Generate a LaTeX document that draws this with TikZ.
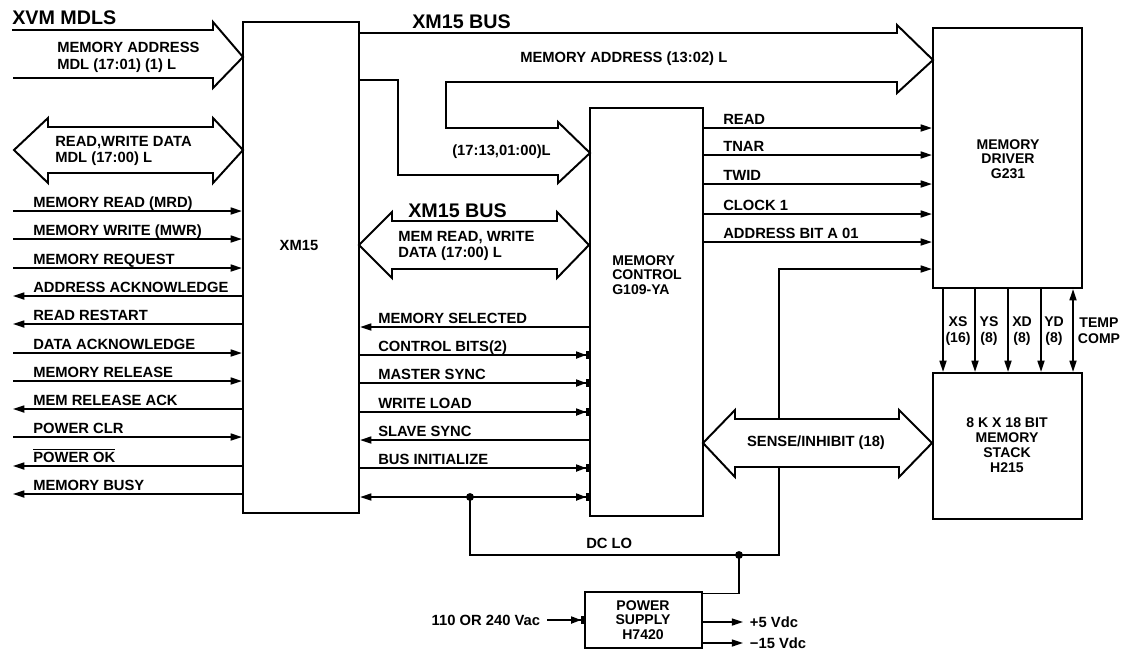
\documentclass[tikz,border=0pt]{standalone}
\usepackage{fontspec}
\setmainfont{Liberation Sans}
\usetikzlibrary{arrows.meta,fit}

\begin{document}
\begin{tikzpicture}[x=0.025cm,y=-0.025cm]

	\tikzset{
		block/.style={
			draw,
			rectangle,
			line width=1.6pt,
			inner sep=0pt
		},
		blocktext/.style={
			align=center,
			inner sep=0pt,
			font=\bfseries\fontsize{10}{10.5}\selectfont
		},
		bus/.style={
			line width=1.4pt,
			line join=miter
		},
		sig/.style={line width=1.1pt},
		tin/.style={sig, -{Triangle[length=8pt,width=5pt]}},
		tout/.style={sig, {Triangle[length=8pt,width=5pt]}-},
		tbar/.style={sig, -{Triangle[length=7pt,width=5pt]Bar[width=5.5pt,line width=2pt]}},
		siglabel/.style={
			anchor=base west,
			inner sep=0pt,
			font=\bfseries\fontsize{10.5}{12}\selectfont
		},
		buslabel/.style={
			anchor=west,
			align=left,
			inner sep=0pt,
			font=\bfseries\fontsize{10.5}{12}\selectfont
		},
		title/.style={
			anchor=base west,
			inner sep=0pt,
			font=\bfseries\fontsize{14}{15}\selectfont
		}
	}

	\useasboundingbox (0,0) rectangle (1122,654);

	% BLOCKS
	\node[block, fit={(243,22) (359,513)}] (xm) {};
	\node[block, fit={(590,108) (703,516)}] (ctl) {};
	\node[block, fit={(933,28) (1082,288)}] (drv) {};
	\node[block, fit={(933,373) (1082,519)}] (stk) {};
	\node[block, fit={(585,592) (702,648)}] (ps) {};

	\node[blocktext, font=\bfseries\fontsize{10.5}{11}\selectfont] (xmtext) at (299,245) {XM15};
	\node[blocktext, anchor=west, align=left] (ctltext) at (612,275) {MEMORY\\CONTROL\\G109-YA};
	\node[blocktext] (drvtext) at (1008,159) {MEMORY\\DRIVER\\G231};
	\node[blocktext] (stktext) at (1007,445) {8 K X 18 BIT\\MEMORY\\STACK\\H215};
	\node[blocktext] (pstext) at (643,620) {POWER\\SUPPLY\\H7420};

	% XVM MDLS
	\node[title] (xvm) at (12,24) {XVM MDLS};
	\draw[bus] (12,30) -- (213,30) -- (213,22) -- (243,57) -- (213,88) -- (213,78) -- (13,78);
	\node[buslabel] (mdladdr) at (57,57) {MEMORY ADDRESS\\MDL (17:01) (1) L};

	\draw[bus] (48,127) -- (213,127) -- (213,118) -- (243,150) -- (213,183) -- (213,173)
		-- (48,173) -- (48,183) -- (14,150) -- (48,118) -- cycle;
	\node[buslabel] (mdldata) at (55,151) {READ,WRITE DATA\\MDL (17:00) L};

	% XM15 BUS (TOP)
	\node[title] (bustop) at (412,28) {XM15 BUS};
	\draw[bus] (359,33) -- (897,33) -- (897,25) -- (933,60) -- (897,93) -- (897,82)
		-- (446,82) -- (446,128) -- (558,128) -- (558,122) -- (590,153) -- (558,183)
		-- (558,175) -- (398,175) -- (398,80) -- (359,80);
	\node[buslabel] (addrlabel) at (520,59) {MEMORY ADDRESS (13:02) L};
	\node[buslabel] (ctladdr) at (452,152) {(17:13,01:00)L};

	% XM15 BUS (DATA)
	\node[title] (busmid) at (408,217) {XM15 BUS};
	\draw[bus] (392,221) -- (557,221) -- (557,212) -- (589,245) -- (557,278) -- (557,269)
		-- (392,269) -- (392,278) -- (359,245) -- (392,212) -- cycle;
	\node[buslabel] (datalabel) at (398,246) {MEM READ, WRITE\\DATA (17:00) L};

	% LEFT SIGNALS
	\foreach \y/\txt/\st [count=\i] in {
		211/MEMORY READ (MRD)/tin,
		239/MEMORY WRITE (MWR)/tin,
		268/MEMORY REQUEST/tin,
		296/ADDRESS ACKNOWLEDGE/tout,
		324/READ RESTART/tout,
		353/DATA ACKNOWLEDGE/tin,
		381/MEMORY RELEASE/tin,
		409/MEM RELEASE ACK/tout,
		437/POWER CLR/tin,
		466/$\overline{\hbox{POWER OK}}$/tout,
		494/MEMORY BUSY/tout} {
		\coordinate (l\i) at (13,\y);
		\draw[\st] (l\i) -- (l\i -| xm.west);
		\node[siglabel] (ll\i) at (33,\y-4) {\txt};
	}

	% XM15 TO MEMORY CONTROL
	\foreach \y/\txt/\st [count=\i] in {
		327/MEMORY SELECTED/tout,
		355/CONTROL BITS(2)/tbar,
		383/MASTER SYNC/tbar,
		412/WRITE LOAD/tbar,
		440/SLAVE SYNC/tout,
		468/BUS INITIALIZE/tbar} {
		\coordinate (m\i) at (0,\y);
		\draw[\st] (xm.east |- m\i) -- (ctl.west |- m\i);
		\node[siglabel] (ml\i) at (378,\y-4) {\txt};
	}

	\coordinate (dcdot) at (470,497);
	\draw[sig, {Triangle[length=8pt,width=5pt]}-{Triangle[length=7pt,width=5pt]Bar[width=5.5pt,line width=2pt]}]
		(xm.east |- dcdot) -- (ctl.west |- dcdot);
	\fill (dcdot) circle (2.8pt);

	% MEMORY CONTROL TO DRIVER
	\foreach \y/\txt [count=\i] in {128/READ, 155/TNAR, 184/TWID, 214/CLOCK 1, 242/ADDRESS BIT A 01} {
		\coordinate (r\i) at (0,\y);
		\draw[tin] (ctl.east |- r\i) -- (drv.west |- r\i);
		\node[siglabel] (rl\i) at (723,\y-4) {\txt};
	}

	% DC LO
	\coordinate (dcturn) at (779,555);
	\coordinate (dcin) at (779,269);
	\coordinate (psdot) at (739,555);
	\draw[tin] (dcdot) |- (dcturn) -- (dcin) -- (dcin -| drv.west);
	\fill (psdot) circle (2.8pt);
	\draw[sig] (psdot) |- ([yshift=-2pt]ps.north east);
	\node[siglabel] (dclo) at (586,548) {DC LO};

	% SENSE/INHIBIT
	\draw[bus, fill=white] (735,419) -- (899,419) -- (899,410) -- (932,443) -- (899,477) -- (899,467)
		-- (735,467) -- (735,477) -- (703,443) -- (735,410) -- cycle;
	\node[font=\bfseries\fontsize{10.5}{12}\selectfont] (sense) at (816,443) {SENSE/INHIBIT (18)};

	% DRIVER TO STACK
	\foreach \x [count=\i] in {943,975,1008,1041} {
		\coordinate (v\i) at (\x,0);
		\draw[tin] (drv.south -| v\i) -- (stk.north -| v\i);
	}
	\coordinate (v5) at (1073,0);
	\draw[sig, {Triangle[length=8pt,width=5pt]}-{Triangle[length=8pt,width=5pt]}] (drv.south -| v5) -- (stk.north -| v5);

	\node[align=center, font=\bfseries\fontsize{10}{11.5}\selectfont] (xs) at (958,331) {XS\\(16)};
	\node[align=center, font=\bfseries\fontsize{10}{11.5}\selectfont] (ys) at (989,331) {YS\\(8)};
	\node[align=center, font=\bfseries\fontsize{10}{11.5}\selectfont] (xd) at (1022,331) {XD\\(8)};
	\node[align=center, font=\bfseries\fontsize{10}{11.5}\selectfont] (yd) at (1054,331) {YD\\(8)};
	\node[align=center, font=\bfseries\fontsize{10}{11.5}\selectfont] (tc) at (1099,331) {TEMP\\COMP};

	% POWER SUPPLY
	\coordinate (acin) at (547,0);
	\coordinate (o1) at (743,622);
	\coordinate (o2) at (743,643);
	\draw[tbar] (acin |- ps.west) -- (ps.west);
	\draw[tin] (ps.east |- o1) -- (o1);
	\draw[tin] (ps.east |- o2) -- (o2);
	\node[anchor=east, font=\bfseries\fontsize{10.5}{12}\selectfont] (acl) at (545,620) {110 OR 240 Vac};
	\node[anchor=west, font=\bfseries\fontsize{10.5}{12}\selectfont] (o1l) at (745,622) {+5 Vdc};
	\node[anchor=west, font=\bfseries\fontsize{10.5}{12}\selectfont] (o2l) at (745,643) {−15 Vdc};

\end{tikzpicture}
\end{document}
